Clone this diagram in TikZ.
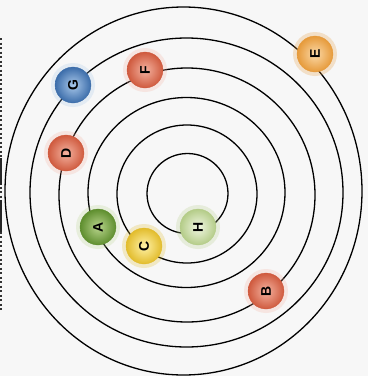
\documentclass[tikz,border=0pt]{standalone}
\usepackage{fontspec}
\setsansfont{Liberation Sans}
\definecolor{eIn}{HTML}{FBD9A8}\definecolor{eOut}{HTML}{E69A3A}
\definecolor{gIn}{HTML}{A9C8EA}\definecolor{gOut}{HTML}{3C6DAA}
\definecolor{rIn}{HTML}{F4B2A0}\definecolor{rOut}{HTML}{CF5A3E}
\definecolor{aIn}{HTML}{B8D48C}\definecolor{aOut}{HTML}{5E8E2E}
\definecolor{cIn}{HTML}{FFF2A8}\definecolor{cOut}{HTML}{E2BC2C}
\definecolor{hIn}{HTML}{F0F6E2}\definecolor{hOut}{HTML}{B4CC88}
\begin{document}
\begin{tikzpicture}[x=1pt,y=-1pt,
  ring/.style={draw=black,line width=1.3pt},
  glow/.style={circle,minimum size=44pt,inner sep=0pt,fill=#1,fill opacity=0.25,draw=none},
  bubble/.style n args={2}{circle,minimum size=36pt,inner sep=0pt,
     inner color=#1,outer color=#2,draw=#2,line width=0.3pt,
     font=\sffamily\bfseries\fontsize{14}{14}\selectfont,text=black,rotate=90}
]
\useasboundingbox (0,0) rectangle (368,376);
\fill[white!97!black] (0,0) rectangle (368,376);
% left strip (clipped text remnant)
\draw[black!80,line width=1.6pt,dash pattern=on 2pt off 2.5pt] (1.2,38) -- (1.2,312);
\draw[black!85,line width=2.2pt] (1.3,158) -- (1.3,185);
\draw[black!85,line width=2.2pt] (1.3,200) -- (1.3,232);
% rings
\draw[ring] (187.5,193.5) ellipse [x radius=40.5,y radius=40];
\draw[ring] (187,194) ellipse [x radius=70,y radius=69];
\draw[ring] (186.5,192.5) ellipse [x radius=98.5,y radius=95];
\draw[ring] (187,195) ellipse [x radius=128,y radius=127];
\draw[ring] (186.5,192.5) ellipse [x radius=156.5,y radius=154.5];
\draw[ring] (183.5,191) ellipse [x radius=178.5,y radius=184];
% glows
\node[glow=eOut] at (315,54) {};
\node[glow=gIn] at (73,85) {};
\node[glow=rIn] at (145,70) {};
\node[glow=rIn] at (66,153) {};
\node[glow=aIn] at (98,227) {};
\node[glow=cOut] at (144,246) {};
\node[glow=hOut] at (198,227) {};
\node[glow=rIn] at (266,291) {};
% bubbles
\node[bubble={eIn}{eOut}] (E) at (315,54) {E};
\node[bubble={gIn}{gOut}] (G) at (73,85) {G};
\node[bubble={rIn}{rOut}] (F) at (145,70) {F};
\node[bubble={rIn}{rOut}] (D) at (66,153) {D};
\node[bubble={aIn}{aOut}] (A) at (98,227) {A};
\node[bubble={cIn}{cOut}] (C) at (144,246) {C};
\node[bubble={hIn}{hOut}] (H) at (198,227) {H};
\node[bubble={rIn}{rOut}] (B) at (266,291) {B};
\end{tikzpicture}
\end{document}
